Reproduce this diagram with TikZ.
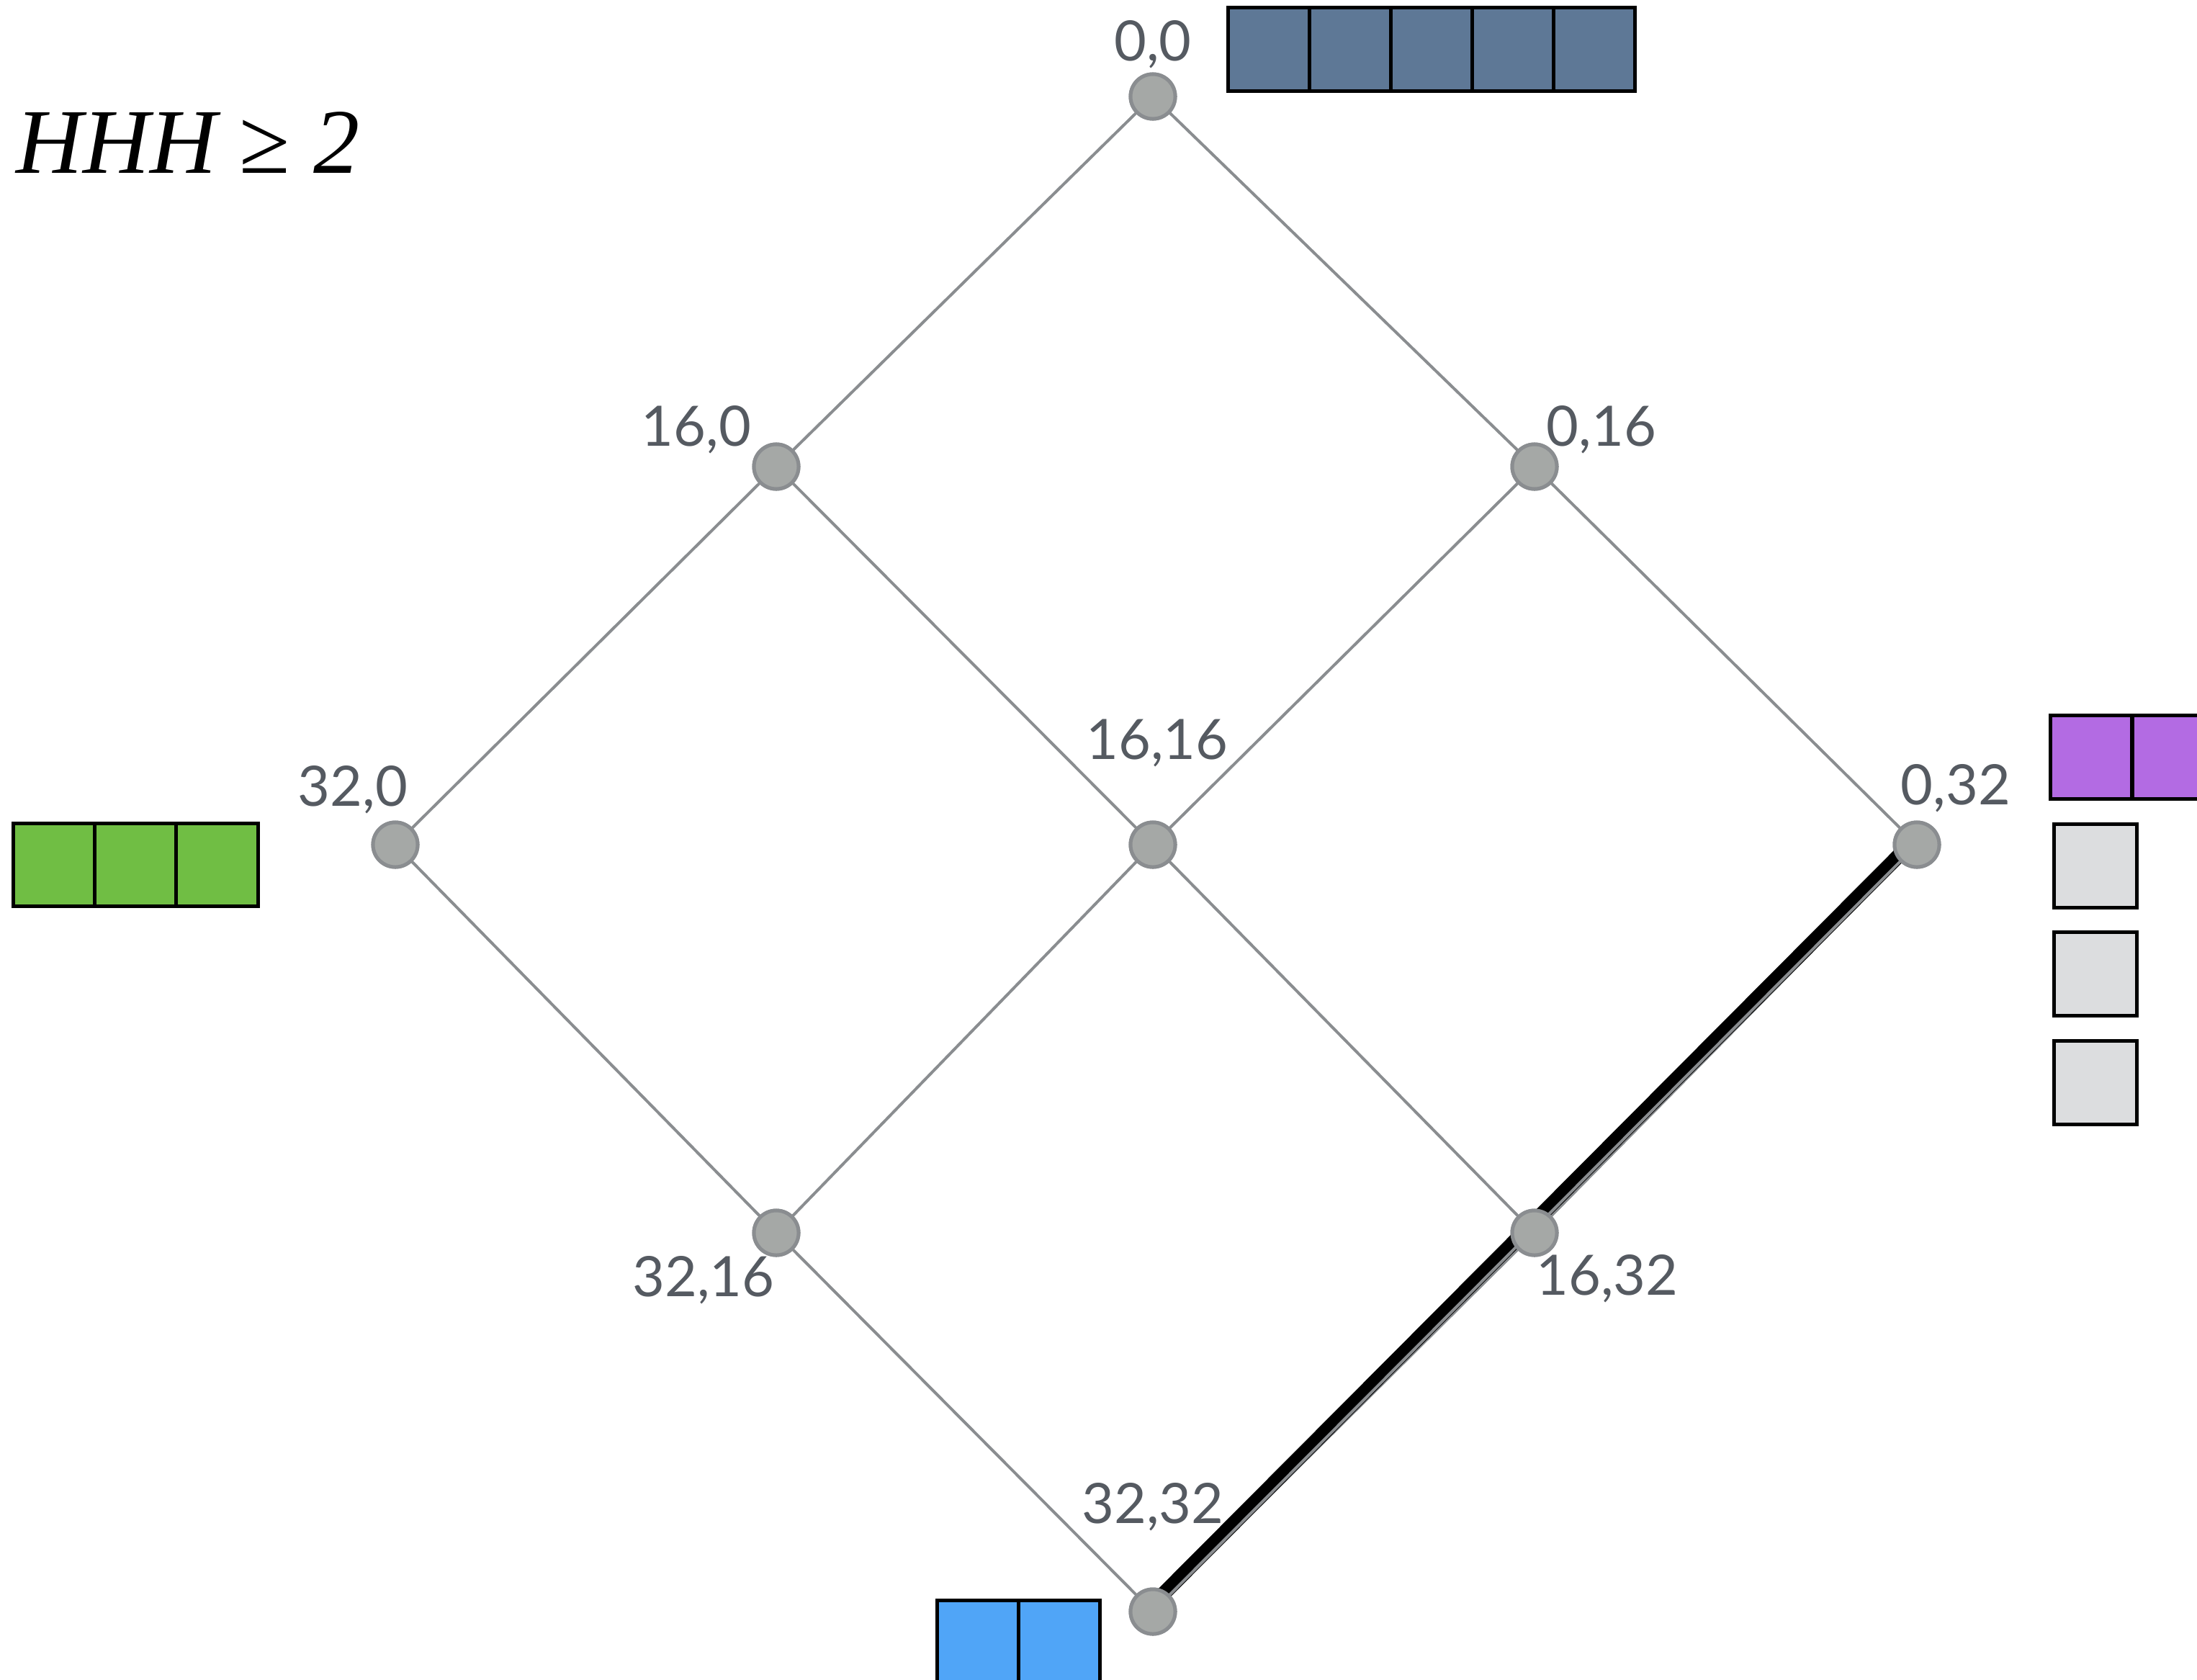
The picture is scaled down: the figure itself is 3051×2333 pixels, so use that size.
\documentclass[tikz,border=0pt]{standalone}
\usepackage{fontspec}
\newfontfamily\labelfont{Lato}
\newfontfamily\titlefont{Liberation Serif}
\definecolor{edgegrey}{RGB}{138,141,144}
\definecolor{nodefill}{RGB}{165,168,166}
\definecolor{labelgrey}{RGB}{85,90,97}
\definecolor{slate}{RGB}{94,120,150}
\definecolor{leaf}{RGB}{112,190,68}
\definecolor{sky}{RGB}{80,165,247}
\definecolor{violet}{RGB}{179,107,227}
\definecolor{pale}{RGB}{220,221,223}
\begin{document}
\begin{tikzpicture}[x=0.01cm,y=-0.01cm,
  vertex/.style={circle,fill=nodefill,draw=edgegrey,line width=0.05cm,minimum size=0.62cm,inner sep=0pt},
  edge/.style={draw=edgegrey,line width=0.04cm},
  pathedge/.style={draw=black,line width=0.2cm},
  lbl/.style={anchor=base,inner sep=0pt,text=labelgrey,font=\labelfont\fontsize{22}{26}\selectfont},
  cell/.style={draw=black,line width=0.05cm,minimum width=1.13cm,minimum height=1.15cm,inner sep=0pt,outer sep=0pt}
]
\useasboundingbox (0,0) rectangle (3051,2333);

% lattice vertices
\node[vertex] (n00)   at (1601,134)  {};
\node[vertex] (n160)  at (1078,648)  {};
\node[vertex] (n016)  at (2131,648)  {};
\node[vertex] (n320)  at (549,1173)  {};
\node[vertex] (n1616) at (1601,1173) {};
\node[vertex] (n032)  at (2662,1173) {};
\node[vertex] (n3216) at (1078,1712) {};
\node[vertex] (n1632) at (2131,1712) {};
\node[vertex] (n3232) at (1601,2238) {};

% lattice edges
\path[edge] (n00.center) -- (n160.center);
\path[edge] (n00.center) -- (n016.center);
\path[edge] (n160.center) -- (n320.center);
\path[edge] (n160.center) -- (n1616.center);
\path[edge] (n016.center) -- (n1616.center);
\path[edge] (n016.center) -- (n032.center);
\path[edge] (n320.center) -- (n3216.center);
\path[edge] (n1616.center) -- (n3216.center);
\path[edge] (n1616.center) -- (n1632.center);
\path[edge] (n032.center) -- (n1632.center);
\path[edge] (n3216.center) -- (n3232.center);
\path[edge] (n1632.center) -- (n3232.center);

% highlighted path: black band with the grey edge along its lower side
\path[pathedge] ([shift={(-5,-5)}]n032.center) -- ([shift={(-5,-5)}]n3232.center);
\path[edge] (n032.center) -- (n3232.center);

% redraw vertices on top of the edges
\foreach \v in {n00,n160,n016,n320,n1616,n032,n3216,n1632,n3232}
  \node[vertex] at (\v.center) {};

% vertex labels
\node[lbl] (l00)   at (1601,84)   {0,0};
\node[lbl] (l160)  at (967,619)   {16,0};
\node[lbl] (l016)  at (2224,619)  {0,16};
\node[lbl] (l320)  at (490,1119)  {32,0};
\node[lbl] (l1616) at (1607,1054) {16,16};
\node[lbl] (l032)  at (2716,1117) {0,32};
\node[lbl] (l3216) at (977,1800)  {32,16};
\node[lbl] (l1632) at (2232,1798) {16,32};
\node[lbl] (l3232) at (1601,2115) {32,32};

% title
\node[anchor=base west,inner sep=0pt,font=\titlefont\fontsize{36.5}{40}\selectfont] (title) at (22,240) {\itshape HHH \upshape≥ \itshape 2};

% cell strips
\foreach \i in {0,...,4}
  \node[cell,fill=slate] (top\i) at ({1762.4+112.8*\i},68.5) {};
\foreach \i in {0,...,2}
  \node[cell,fill=leaf] (green\i) at ({75.5+113*\i},1201) {};
\foreach \i in {0,...,1}
  \node[cell,fill=sky] (blue\i) at ({1357.75+113.5*\i},2280.5) {};
\foreach \i in {0,...,1}
  \node[cell,fill=violet] (purple\i) at ({2904+114*\i},1051.5) {};
\foreach \y [count=\i] in {1202.5,1352.5,1503.5}
  \node[cell,fill=pale,minimum width=1.15cm] (grey\i) at (2909.5,\y) {};
\end{tikzpicture}
\end{document}
